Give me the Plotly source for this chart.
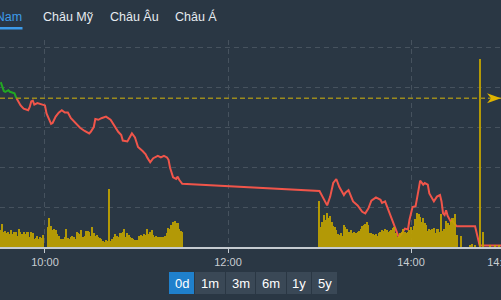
import plotly.graph_objects as go

# ---------------- data ----------------
REF_PRICE = 1258.6

price_times = ["09:31","09:32","09:33","09:34","09:36","09:37","09:38","09:40","09:41","09:42","09:44","09:46","09:49","09:50","09:51","09:52","09:53","09:55","09:58","10:00",
               "10:01","10:03","10:04","10:05","10:07","10:09","10:11","10:13","10:15","10:17","10:20","10:23","10:26","10:29","10:30","10:32","10:33","10:35","10:37","10:40",
               "10:43","10:46","10:48","10:50","10:51","10:54","10:56","10:57","10:59","11:01","11:04","11:06","11:07","11:09","11:11","11:12","11:14","11:16","11:18","11:20",
               "11:21","11:22","11:24","11:26","11:27","11:28","11:30",
               "13:00","13:03","13:05","13:07","13:09","13:11","13:13","13:16","13:17","13:19","13:21","13:22","13:25","13:28","13:30","13:32","13:34","13:37","13:40","13:41",
               "13:43","13:45","13:47","13:50","13:52","13:54","13:56","13:58","13:59","14:01","14:03","14:05","14:06","14:08","14:09","14:11","14:12","14:15","14:17","14:19",
               "14:20","14:21","14:22","14:23","14:24","14:26","14:27","14:29","14:30","14:42","14:45","14:59"]
price_values = [1260.6,1260.0,1259.5,1259.4,1259.6,1259.4,1259.3,1259.2,1258.7,1258.4,1257.7,1257.3,1257.1,1257.5,1258.2,1258.3,1257.8,1258.0,1257.8,1257.7,
                1256.7,1255.7,1255.4,1255.5,1256.3,1256.8,1257.1,1256.8,1256.8,1256.1,1255.5,1254.9,1254.5,1254.2,1254.4,1255.0,1256.0,1255.9,1256.1,1256.3,
                1255.9,1255.0,1254.4,1254.0,1253.3,1253.2,1253.9,1254.2,1253.7,1252.5,1252.0,1251.6,1251.2,1250.6,1251.1,1251.2,1251.4,1251.2,1251.4,1251.2,
                1250.9,1249.9,1248.7,1248.5,1248.8,1248.4,1247.9,
                1247.0,1245.9,1245.2,1246.3,1248.0,1248.5,1247.5,1246.5,1246.8,1247.1,1246.3,1245.7,1245.2,1244.4,1244.2,1244.8,1245.8,1246.2,1245.9,1245.5,
                1245.7,1244.7,1243.6,1242.3,1241.2,1241.7,1242.3,1242.2,1243.4,1245.0,1245.1,1247.2,1248.3,1247.8,1248.0,1247.8,1246.7,1245.7,1246.3,1246.5,
                1245.7,1244.2,1244.0,1244.6,1243.9,1243.2,1243.3,1242.8,1242.6,1242.6,1240.2,1240.2]

# volume per minute (units of 10k shares)
vol_am_start = "09:31"
vol_am = [17,23,15,16,14,15,13,17,13,15,15,11,18,15,13,15,13,15,15,10,15,14,8,9,11,8,10,9,12,0,
          0,20,29,21,17,18,17,13,11,8,8,8,10,18,9,8,10,11,10,8,15,14,13,17,10,11,16,16,15,11,
          20,14,11,12,10,9,8,6,5,7,6,58,6,8,10,13,11,10,14,14,15,18,10,14,12,10,9,8,7,7,
          7,11,12,11,13,12,18,13,15,17,12,10,11,10,10,10,10,10,11,14,19,18,22,25,26,24,24,18,16,15]
vol_pm_start = "13:00"
vol_pm = [46,20,25,32,27,34,29,31,25,21,20,17,13,12,14,11,22,20,18,15,15,17,14,15,14,15,16,18,21,22,
          23,25,22,14,14,13,12,13,11,14,15,17,16,18,17,15,16,17,19,20,14,10,11,14,15,18,15,14,15,17,
          20,17,21,28,34,33,30,25,29,24,22,16,18,17,18,19,14,18,18,15,33,16,18,26,24,22,26,29,29,33,12]
vol_close_start = "14:31"
vol_close = [0,0,11,0,0,0,0,0,2,3,0,2,0,0,188,0,15,0,0,0,0,2,0,0,2,0,0,2,0]

tabs = ["Việt Nam", "Châu Mỹ", "Châu Âu", "Châu Á"]
ranges = ["0d", "1m", "3m", "6m", "1y", "5y"]
tick_times = ["10:00", "12:00", "14:00", "14:59"]
AXIS_START, AXIS_END = "09:30", "14:59"


def to_min(s):
    h, m = s.split(":")
    return int(h) * 60 + int(m)


# ---------------- styles ----------------
BG = "#2a3744"
GRID = "#46525e"
RED = "#f0554a"
GREEN = "#22a822"
BAR = "#c2a400"
TEXT = "#e6ebf0"
BLUE = "#3d9be9"
FONT = "Liberation Sans, Arial, sans-serif"
W, H = 501, 300
ML, MR, MT, MB = 0, 0, 40, 53
PW, PH = W - ML - MR, H - MT - MB

x_price = [to_min(t) for t in price_times]

# split the price line into above (green) / below (red) reference
green_x, green_y, red_x, red_y = [], [], [], []
for x, y in zip(x_price, price_values):
    if y >= REF_PRICE and not red_x:
        green_x.append(x); green_y.append(y)
    else:
        if not red_x and green_x:
            x0, y0 = green_x[-1], green_y[-1]
            f = (y0 - REF_PRICE) / (y0 - y)
            xc = x0 + f * (x - x0)
            green_x.append(xc); green_y.append(REF_PRICE)
            red_x.append(xc); red_y.append(REF_PRICE)
        red_x.append(x); red_y.append(y)

bar_x, bar_y = [], []
for start, vals in [(vol_am_start, vol_am), (vol_pm_start, vol_pm), (vol_close_start, vol_close)]:
    s = to_min(start)
    for i, v in enumerate(vals):
        bar_x.append(s + i)
        bar_y.append(v)

fig = go.Figure()
fig.add_trace(go.Bar(x=bar_x, y=bar_y, yaxis="y2", marker=dict(color=BAR, line=dict(width=0)),
                     width=0.8, opacity=0.9, hoverinfo="skip"))
fig.add_trace(go.Scatter(x=red_x, y=red_y, mode="lines", line=dict(color=RED, width=2), hoverinfo="skip"))
fig.add_trace(go.Scatter(x=green_x, y=green_y, mode="lines", line=dict(color=GREEN, width=2), hoverinfo="skip"))


def px_x(p):
    return (p - ML) / PW


def px_y(p):
    return (MT + PH - p) / PH


shapes = [
    dict(type="line", xref="paper", yref="y", x0=0, x1=1, y0=REF_PRICE, y1=REF_PRICE,
         line=dict(color="#9c8b1c", width=1.5, dash="5px,3px"), layer="above"),
    dict(type="path", xref="paper", yref="y", xsizemode="pixel", ysizemode="pixel",
         xanchor=1, yanchor=REF_PRICE, path="M-14,-5 L0,0 L-14,5 L-10,0 Z",
         fillcolor="#e0b400", line=dict(width=0), layer="above"),
    dict(type="rect", xref="paper", yref="paper", x0=px_x(-20), x1=px_x(22.5), y0=px_y(29.5), y1=px_y(27),
         fillcolor=BLUE, line=dict(width=0)),
]

annotations = []
tab_x = [24, 41, 108, 173]
for i, (t, x) in enumerate(zip(tabs, tab_x)):
    annotations.append(dict(text=t, xref="paper", yref="paper", x=px_x(x), y=px_y(17),
                            xanchor="right" if i == 0 else "left", yanchor="middle", showarrow=False,
                            font=dict(family=FONT, size=12.5, color=BLUE if i == 0 else TEXT)))

btn_edges = [169, 195, 226, 256, 287, 312, 338]
for i, lab in enumerate(ranges):
    x0, x1 = btn_edges[i], btn_edges[i + 1]
    shapes.append(dict(type="rect", xref="paper", yref="paper", x0=px_x(x0), x1=px_x(x1 - 1),
                       y0=px_y(294), y1=px_y(272),
                       fillcolor="#1f80cc" if i == 0 else "#3a4856", line=dict(width=0)))
    annotations.append(dict(text=lab, xref="paper", yref="paper", x=px_x((x0 + x1 - 1) / 2), y=px_y(283),
                            xanchor="center", yanchor="middle", showarrow=False,
                            font=dict(family=FONT, size=13, color="#ffffff")))

fig.update_layout(
    width=W, height=H, margin=dict(l=ML, r=MR, t=MT, b=MB, autoexpand=False),
    paper_bgcolor=BG, plot_bgcolor=BG, showlegend=False, bargap=0,
    shapes=shapes, annotations=annotations,
    xaxis=dict(range=[to_min(AXIS_START) + 0.5, to_min(AXIS_END)], tickvals=[to_min(t) for t in tick_times],
               ticktext=tick_times, ticklabeloverflow="allow", automargin=False,
               showgrid=True, gridcolor=GRID, griddash="5px,4px", gridwidth=1,
               showline=True, linecolor="#c5cbd1", linewidth=1.5, ticks="outside", ticklen=4,
               tickcolor="#c5cbd1", tickfont=dict(family=FONT, size=11, color="#c8cdd2"),
               zeroline=False, fixedrange=True),
    yaxis=dict(range=[1240, 1265.875], tickvals=[1245, 1250, 1255, 1260, 1265], showticklabels=False,
               automargin=False, showgrid=True, gridcolor=GRID, griddash="5px,4px", gridwidth=1,
               zeroline=False, ticks=""),
    yaxis2=dict(range=[0, 207], overlaying="y", visible=False, showgrid=False),
)

fig.write_html("out.html")
